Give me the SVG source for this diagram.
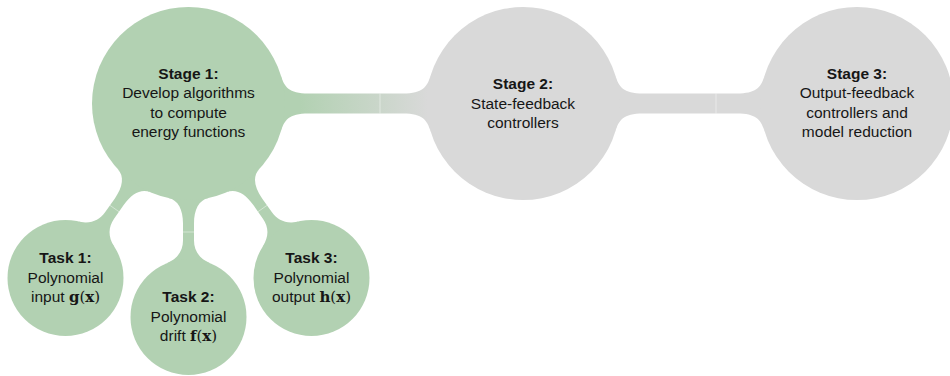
<svg xmlns="http://www.w3.org/2000/svg" width="950" height="376" viewBox="0 0 950 376">
  <defs>
    <linearGradient id="bar12" gradientUnits="userSpaceOnUse" x1="300" y1="0" x2="428" y2="0">
      <stop offset="0" stop-color="#b2d1b2"/>
      <stop offset="1" stop-color="#d9d9d9"/>
    </linearGradient>
    <style>
      .green { fill: #b2d1b2; }
      .grey { fill: #d9d9d9; }
      .seam { stroke: #ffffff; stroke-width: 0.8; opacity: 0.55; fill: none; }
      .t { font-family: "Liberation Sans", Arial, sans-serif; font-size: 15.5px; fill: #161616; text-anchor: middle; }
      .b { font-weight: bold; }
      .m { font-family: "DejaVu Serif", "Liberation Serif", serif; font-weight: bold; font-size: 15px; }
      .p { font-family: "DejaVu Serif", "Liberation Serif", serif; font-size: 15px; }
    </style>
  </defs>

  <!-- connection bars with flared ends -->
  <g id="connectors">
    <path fill="url(#bar12)" d="M280.78,75.28 C284.29,86.76 288.5,93.5 308.5,93.5 L403,93.5 C423,93.5 427.21,86.76 430.72,75.28 L430.72,131.72 C427.21,120.24 423,113.5 403,113.5 L308.5,113.5 C288.5,113.5 284.29,120.24 280.78,131.72 Z"/>
    <path class="grey" d="M615.28,75.28 C618.79,86.76 623,93.5 643,93.5 L737,93.5 C757,93.5 761.21,86.76 764.72,75.28 L764.72,131.72 C761.21,120.24 757,113.5 737,113.5 L643,113.5 C623,113.5 618.79,120.24 615.28,131.72 Z"/>
    <path class="green" d="M117.72,169.09 C124.52,176.42 122.93,186.97 114.86,198.41 L105.07,212.31 C99.31,220.48 90.40,224.26 78.72,221.52 L114.24,246.56 C107.74,236.48 108.31,226.82 114.07,218.65 L123.86,204.75 C131.93,193.31 141.33,188.27 150.52,192.21 Z"/>
    <path class="green" d="M168.44,197.89 C178.22,199.97 183,209.5 183,223.5 L183,240.5 C183,250.5 177.90,258.72 166.77,263.22 L210.23,263.22 C199.10,258.72 194,250.5 194,240.5 L194,223.5 C194,209.5 198.78,199.97 208.56,197.89 Z"/>
    <path class="green" d="M259.28,169.09 C252.48,176.42 254.07,186.97 262.14,198.41 L271.93,212.31 C277.69,220.48 286.60,224.26 298.28,221.52 L262.76,246.56 C269.26,236.48 268.69,226.82 262.93,218.65 L253.14,204.75 C245.07,193.31 235.67,188.27 226.48,192.21 Z"/>
    <line class="seam" x1="380" y1="93.5" x2="380" y2="113.5"/>
    <line class="seam" x1="716" y1="93.5" x2="716" y2="113.5"/>
    <line class="seam" x1="109.97" y1="205.36" x2="118.97" y2="211.70"/>
    <line class="seam" x1="183" y1="232" x2="194" y2="232"/>
    <line class="seam" x1="267.03" y1="205.36" x2="258.03" y2="211.70"/>
  </g>

  <g id="stage1">
    <circle class="green" cx="188.5" cy="103.5" r="96.5"/>
    <text class="t b" x="188.5" y="78.5">Stage 1:</text>
    <text class="t" x="188.5" y="98">Develop algorithms</text>
    <text class="t" x="188.5" y="117.5">to compute</text>
    <text class="t" x="188.5" y="137">energy functions</text>
  </g>

  <g id="stage2">
    <circle class="grey" cx="523" cy="103.5" r="96.5"/>
    <text class="t b" x="523" y="89">Stage 2:</text>
    <text class="t" x="523" y="108.5">State-feedback</text>
    <text class="t" x="523" y="128">controllers</text>
  </g>

  <g id="stage3">
    <circle class="grey" cx="857" cy="103.5" r="96.5"/>
    <text class="t b" x="857" y="78.5">Stage 3:</text>
    <text class="t" x="857" y="98">Output-feedback</text>
    <text class="t" x="857" y="117.5">controllers and</text>
    <text class="t" x="857" y="137">model reduction</text>
  </g>

  <g id="task1">
    <circle class="green" cx="65.5" cy="278" r="58"/>
    <text class="t b" x="65.5" y="263">Task 1:</text>
    <text class="t" x="65.5" y="282.5">Polynomial</text>
    <text class="t" x="65.5" y="302">input <tspan class="m">g</tspan><tspan class="p">(</tspan><tspan class="m">x</tspan><tspan class="p">)</tspan></text>
  </g>

  <g id="task2">
    <circle class="green" cx="188.5" cy="317" r="58"/>
    <text class="t b" x="188.5" y="302">Task 2:</text>
    <text class="t" x="188.5" y="321.5">Polynomial</text>
    <text class="t" x="188.5" y="341">drift <tspan class="m">f</tspan><tspan class="p">(</tspan><tspan class="m">x</tspan><tspan class="p">)</tspan></text>
  </g>

  <g id="task3">
    <circle class="green" cx="311.5" cy="278" r="58"/>
    <text class="t b" x="311.5" y="263">Task 3:</text>
    <text class="t" x="311.5" y="282.5">Polynomial</text>
    <text class="t" x="311.5" y="302">output <tspan class="m">h</tspan><tspan class="p">(</tspan><tspan class="m">x</tspan><tspan class="p">)</tspan></text>
  </g>
</svg>
